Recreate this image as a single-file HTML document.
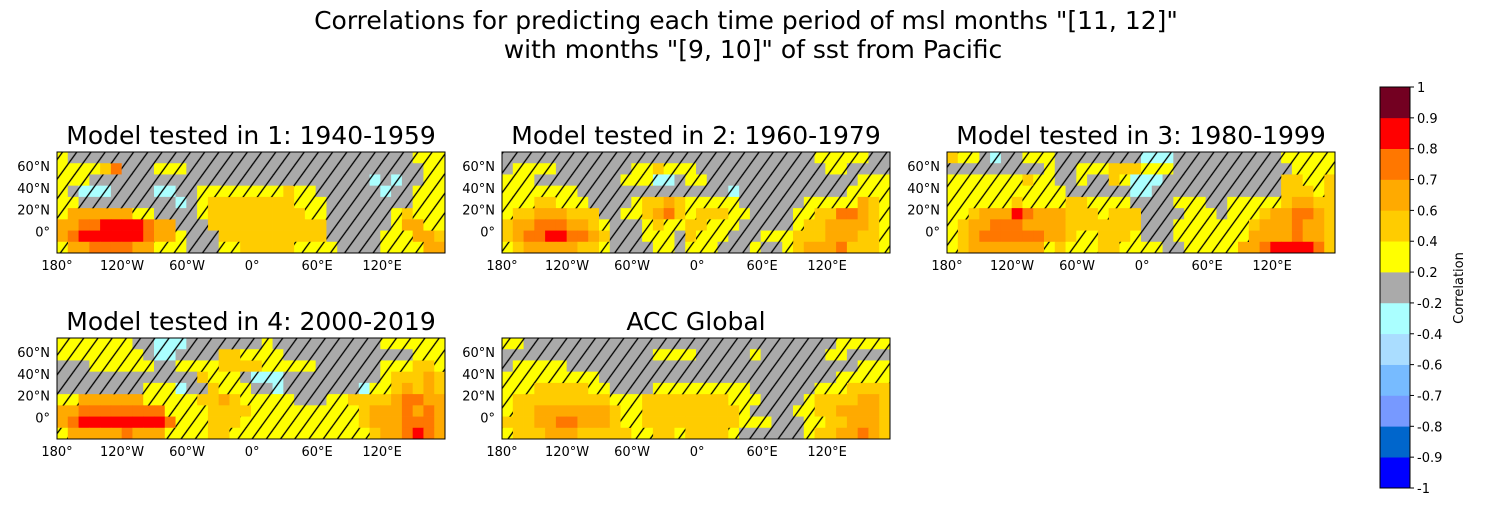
<!DOCTYPE html>
<html><head><meta charset="utf-8">
<style>
body{margin:0;background:#fff;font-family:"Liberation Sans","DejaVu Sans",sans-serif;}
svg text{font-family:"DejaVu Sans","Liberation Sans",sans-serif;}
</style></head>
<body>
<svg id="fig" width="1500" height="500" viewBox="0 0 1500 500" xmlns="http://www.w3.org/2000/svg">
<defs>
<pattern id="hatch" patternUnits="userSpaceOnUse" width="11.5" height="30" patternTransform="rotate(36)">
<line x1="2" y1="0" x2="2" y2="30" stroke="#000" stroke-width="1.3"/>
</pattern>
</defs>
<text x="746" y="29" font-size="25" text-anchor="middle">Correlations for predicting each time period of msl months "[11, 12]"</text>
<text x="753" y="58" font-size="25" text-anchor="middle">with months "[9, 10]" of sst from Pacific</text>
<g id="panels"></g>
<g id="cbar"></g>
</svg>
<script>
// colorbar bins and colours
const binEdges=[-1,-0.9,-0.8,-0.7,-0.6,-0.4,-0.2,0.2,0.4,0.6,0.7,0.8,0.9,1];
const binColors=["#0000ff","#0066cc","#7799ff","#77bbff","#aaddff","#aaffff","#aaaaaa","#ffff00","#ffcc00","#ffaa00","#ff7700","#ff0000","#730021"];
const tickLabels=["-1","-0.9","-0.8","-0.7","-0.6","-0.4","-0.2","0.2","0.4","0.6","0.7","0.8","0.9","1"];
// code -> correlation value
const codeValues={g:0,y:0.3,o:0.5,a:0.65,d:0.75,r:0.85,c:-0.3};
const panelTitles=["Model tested in 1: 1940-1959","Model tested in 2: 1960-1979","Model tested in 3: 1980-1999","Model tested in 4: 2000-2019","ACC Global"];
const lonTicks=[-180,-120,-60,0,60,120];
const lonLabels=["180°","120°W","60°W","0°","60°E","120°E"];
const latTicks=[60,40,20,0];
const latLabels=["60°N","40°N","20°N","0°"];
const grid1=[
"yggggggggggggggggggggggggggggggggyyy",
"yyyyodgggyyyggggggggggggggggggggggyy",
"yyyggggggggggggggggggggggggggcgcggyy",
"ygcccggggccggyyyyyyyyoyyggggggcggyyy",
"yygggggggggcgyooooooooyyyggggggggyyy",
"yaaaaaayyggggyoooooooooyyggggggyoyyy",
"aaddrrrrdaagggoooooooooooggggggyaayy",
"adrrrrrrdaaygggoooooooooogggggyyyaao",
"yaaddddaayyygggyyoooooyyyyggggyyyyaa"];
const grid2=[
"gggggggggggggggggggggggggggggyyyyygg",
"gyyyygggggggyyoyyyggggggggggggyygggg",
"yyyggggggggyyyccgyyggggggggggggggyyy",
"yyyyyyyggggggggggggggcggggggggggyyyy",
"yyyooyyyggggyooaoyyyyyggggggyyyyyaoy",
"yooaaaoooggyyoadoyoooyyggggyyooddaoy",
"oaadddaaoygggyoyyooyyygggggyooaaaaoy",
"oaddrrddaogggyyygoyyygggyyyoooaaaooy",
"yoaaaaaooyggggyygyyygggyggyoaaadoooy"];
const grid3=[
"oyygcggyyyggggggggcccggggggggggyyyyy",
"gggggggggyggyyyoooyyygggggggggggyyyy",
"yyyyyyyoyyggyggoycccgggggggggggooyyo",
"yyyyyyyyyyyggggggccggggggggggggoooyo",
"yyyyyyoyyyyooyyyyggggyyyggyyyyyoaaoo",
"yyoaaardaaaoooyoooggggyyygyyyoaaddao",
"yoaadddaaaaooooooogggyyyyyyyoaaadaao",
"yoaddddddaaoyyoooygggyyyyyyyaaaadaao",
"yoaaaaaaayoyyyooyyyyggyyyyyaadrrrrdo"];
const grid4=[
"yyyyyyyggcccgggggggyggggggggggyyyyyy",
"yyyyyyyygccggggooyyyyggggggggggggyyy",
"gggyyyyyyggyyyyooooyyyyyggggggyyyooy",
"gggggggggggggoyyygcccgggggggggyoooao",
"ggggggggyyycggoyyyggcgggggggcyyoaoao",
"yyaaaaaayyyyyooaoyyyyygggyyooooaddaa",
"aaddddddddyyyyooooyyyyyyyyyyoaaadada",
"adrrrrrrrrdyyyoooyyyyyyyyyyyoaaaddda",
"yaaaaadaaayyyyooyyyyyyyyyyyyyoaadrda"];
const grid5=[
"yygggggggggggggggggggggggggggggyyyyy",
"ggggggggggggggyyyygggggyggggggyygggg",
"gyyyyygggggggggggggggggggggggggggyyy",
"yyyyyyyyyggggggggggggggggggggggyyyyy",
"yyyoooooyyggggyyyyyyyyyggggggyyyoooo",
"yoooooooooyyyooooooooyyyggggyooooaao",
"yooaaaaaaaoyyoooooooooyggggyyooaaaao",
"oooaaddaaaoyyoooooooooyyygggyyooaaao",
"yoooaaaoooooyyooyooooyggggggyooaadao"];
const grids=[grid1,grid2,grid3,grid4,grid5];
const SIG=0.4;

const NS="http://www.w3.org/2000/svg";
function mk(tag,attrs,parent){const e=document.createElementNS(NS,tag);for(const k in attrs)e.setAttribute(k,attrs[k]);if(parent)parent.appendChild(e);return e;}
function colorFor(v){for(let i=0;i<binColors.length;i++){if(v>=binEdges[i]&&v<binEdges[i+1])return binColors[i];}return binColors[binColors.length-1];}

const W=388,H=101;
const lonMin=-180,lonMax=178,latMax=73,latMin=-20;
const origins=[[57,152],[502,152],[947,152],[57,338],[502,338]];
const panelsG=document.getElementById('panels');
grids.forEach((grid,p)=>{
  const [x0,y0]=origins[p];
  const xs=lon=>x0+(lon-lonMin)/(lonMax-lonMin)*W;
  const ys=lat=>y0+(latMax-lat)/(latMax-latMin)*H;
  const g=mk('g',{},panelsG);
  
  
  const t=mk('text',{x:x0+W/2,y:y0-8,'font-size':25,'text-anchor':'middle'},g);
  t.textContent=panelTitles[p];
  
  
  const rows=grid.length,cols=grid[0].length;
  const cw=W/cols,ch=H/rows;
  const hg=mk('g',{},null);
  for(let r=0;r<rows;r++)for(let c=0;c<cols;c++){
    const v=codeValues[grid[r][c]];
    const cell=mk('rect',{x:(x0+c*cw).toFixed(2),y:(y0+r*ch).toFixed(2),width:(cw+0.4).toFixed(2),height:(ch+0.4).toFixed(2),fill:colorFor(v)},g);
    
    
    if(v<SIG){
      const hc=mk('rect',{x:(x0+c*cw).toFixed(2),y:(y0+r*ch).toFixed(2),width:(cw+0.2).toFixed(2),height:(ch+0.2).toFixed(2),fill:'url(#hatch)'},hg);
      
      
    }
  }
  g.appendChild(hg);
  const fr=mk('rect',{x:x0,y:y0,width:W,height:H,fill:'none',stroke:'#000','stroke-width':1},g);
  
  
  lonTicks.forEach((lon,i)=>{
    const l=mk('text',{x:xs(lon),y:y0+H+17,'font-size':13,'text-anchor':'middle'},g);
    l.textContent=lonLabels[i];
    
    
  });
  latTicks.forEach((lat,i)=>{
    const l=mk('text',{x:x0-7,y:ys(lat)+5,'font-size':13,'text-anchor':'end'},g);
    l.textContent=latLabels[i];
    
    
  });
});

// colorbar
const cb=document.getElementById('cbar');
const cbX=1380,cbW=30,cbTop=87,cbBot=488;
const nb=binColors.length,bh=(cbBot-cbTop)/nb;
binColors.forEach((col,i)=>{
  const r=mk('rect',{x:cbX,y:(cbBot-(i+1)*bh).toFixed(2),width:cbW,height:(bh+0.3).toFixed(2),fill:col},cb);
  
  
});
const cf=mk('rect',{x:cbX,y:cbTop,width:cbW,height:cbBot-cbTop,fill:'none',stroke:'#000','stroke-width':1},cb);


tickLabels.forEach((lab,i)=>{
  const y=cbBot-i*bh;
  mk('line',{x1:cbX+cbW,x2:cbX+cbW+4,y1:y,y2:y,stroke:'#000'},cb);
  const t=mk('text',{x:cbX+cbW+7,y:y+5,'font-size':13},cb);
  t.textContent=lab;
  
  
});
const ct=mk('text',{x:0,y:0,'font-size':13,'text-anchor':'middle',transform:'translate(1463,288) rotate(-90)'},cb);
ct.textContent='Correlation';


</script>
</body></html>
